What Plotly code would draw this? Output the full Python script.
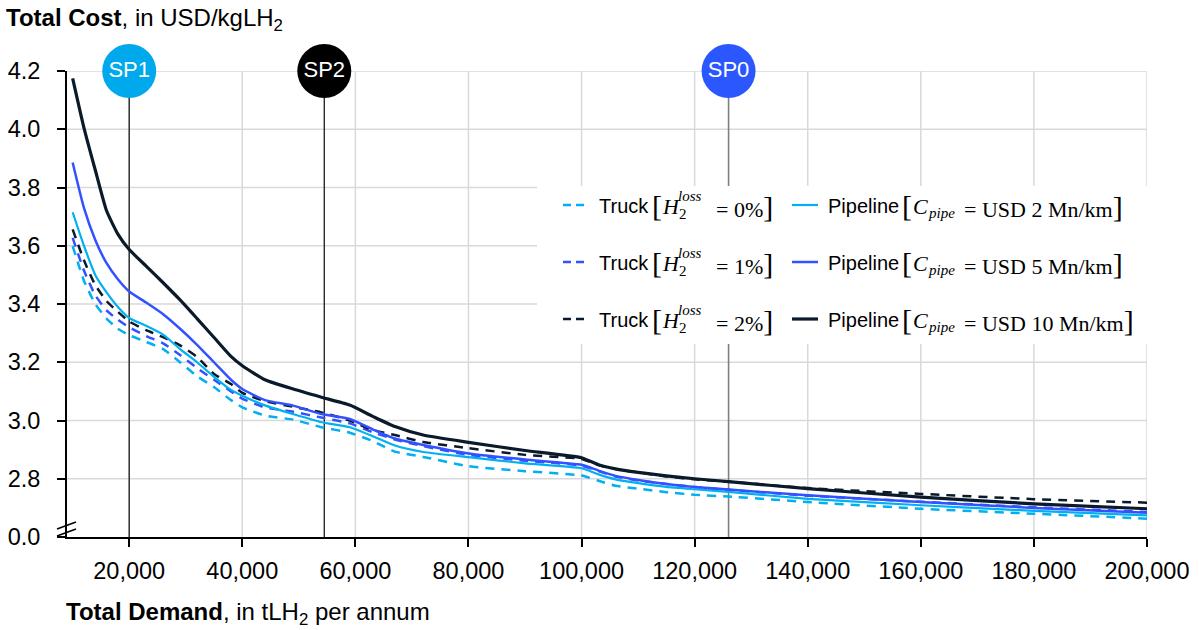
import plotly.graph_objects as go

# Total annual demand (tLH2 per annum)
demand = [10000, 12000, 14000, 16000, 18000, 20000, 23000, 26000, 29000, 32000,
          35000, 38000, 40000, 44000, 49000, 54000, 59000, 63000, 67000, 72000,
          80000, 90000, 100000, 103000, 106000, 110000, 115000, 120000, 126000,
          140000, 160000, 180000, 200000]

# Total cost (USD/kgLH2) per supply option
truck_0 = [3.599, 3.48, 3.40, 3.35, 3.315, 3.293, 3.27, 3.245, 3.20, 3.152,
           3.115, 3.07, 3.045, 3.017, 3.003, 2.977, 2.958, 2.93, 2.893, 2.875,
           2.843, 2.826, 2.811, 2.793, 2.776, 2.766, 2.754, 2.745, 2.739,
           2.720, 2.697, 2.680, 2.663]
truck_1 = [3.627, 3.515, 3.43, 3.378, 3.346, 3.32, 3.29, 3.265, 3.225, 3.18,
           3.14, 3.10, 3.075, 3.045, 3.03, 3.01, 2.99, 2.96, 2.935, 2.912,
           2.882, 2.862, 2.845, 2.826, 2.808, 2.794, 2.782, 2.772, 2.762,
           2.742, 2.721, 2.702, 2.686]
truck_2 = [3.656, 3.55, 3.465, 3.41, 3.373, 3.34, 3.31, 3.286, 3.258, 3.218,
           3.16, 3.125, 3.095, 3.067, 3.047, 3.028, 3.0, 2.968, 2.95, 2.926,
           2.905, 2.882, 2.868, 2.847, 2.833, 2.822, 2.808, 2.798, 2.79,
           2.768, 2.748, 2.73, 2.718]
pipe_2 = [3.715, 3.60, 3.50, 3.44, 3.39, 3.352, 3.325, 3.295, 3.245, 3.20,
          3.15, 3.105, 3.085, 3.052, 3.022, 2.994, 2.977, 2.947, 2.914, 2.892,
          2.874, 2.853, 2.836, 2.815, 2.798, 2.785, 2.772, 2.764, 2.755,
          2.731, 2.709, 2.69, 2.674]
pipe_5 = [3.886, 3.73, 3.62, 3.54, 3.485, 3.443, 3.405, 3.365, 3.315, 3.26,
          3.2, 3.14, 3.108, 3.07, 3.051, 3.022, 3.005, 2.97, 2.938, 2.916,
          2.887, 2.866, 2.848, 2.828, 2.81, 2.796, 2.782, 2.772, 2.763,
          2.743, 2.72, 2.70, 2.683]
pipe_10 = [4.175, 4.005, 3.86, 3.72, 3.64, 3.587, 3.53, 3.473, 3.414, 3.35,
           3.285, 3.22, 3.188, 3.14, 3.108, 3.08, 3.053, 3.015, 2.979, 2.95,
           2.925, 2.897, 2.872, 2.848, 2.834, 2.822, 2.81, 2.80, 2.79,
           2.766, 2.737, 2.714, 2.697]

# Switch points
sp_labels = ["SP1", "SP2", "SP0"]
sp_demand = [20000, 54500, 126000]

# Axis ticks (broken y axis: lowest tick stands for 0.0)
y_tickvals = [2.6, 2.8, 3.0, 3.2, 3.4, 3.6, 3.8, 4.0, 4.2]
y_ticktext = ["0.0", "2.8", "3.0", "3.2", "3.4", "3.6", "3.8", "4.0", "4.2"]
x_tickvals = [20000, 40000, 60000, 80000, 100000, 120000, 140000, 160000, 180000, 200000]
X_RANGE = [9000, 200000]
Y_RANGE = [2.6, 4.2]

LIGHT = "#00B0F0"
BLUE = "#3352FF"
DARK = "#0B1A2B"
GRID = "#D9D9D9"
SANS = "Liberation Sans, Arial, sans-serif"
SERIF = "Liberation Serif, Times New Roman, serif"

# Plot-area geometry in pixels
L, T, W, H = 67, 71, 1080, 466
FIG_W, FIG_H = 1199, 630

# Key panel extent in pixels (grid is left open there)
box_l, box_r, box_t, box_b = 537, 1149, 186, 344


def px(x):
    return (x - L) / W


def py(y):
    return (T + H - y) / H


def to_x(pxl):
    return X_RANGE[0] + px(pxl) * (X_RANGE[1] - X_RANGE[0])


def to_y(pyl):
    return Y_RANGE[0] + py(pyl) * (Y_RANGE[1] - Y_RANGE[0])


fig = go.Figure()

series = [
    (truck_0, LIGHT, "dash", 2.5),
    (truck_1, BLUE, "dash", 2.5),
    (truck_2, DARK, "dash", 2.5),
    (pipe_2, LIGHT, "solid", 2.2),
    (pipe_5, BLUE, "solid", 2.5),
    (pipe_10, DARK, "solid", 3.2),
]
for vals, color, dash, width in series:
    fig.add_trace(go.Scatter(
        x=demand, y=vals, mode="lines",
        line=dict(color=color, width=width, shape="spline", smoothing=0.5,
                  dash="9px,7px" if dash == "dash" else "solid"),
        showlegend=False, hoverinfo="skip"))

# Switch-point badges sitting on the top gridline
fig.add_trace(go.Scatter(
    x=sp_demand, y=[4.2] * len(sp_demand), mode="markers+text",
    text=sp_labels, textposition="middle center",
    textfont=dict(family=SANS, size=22, color="white"),
    marker=dict(size=54, color=["#00A9EC", "#000000", "#2B57FF"], line=dict(width=0)),
    cliponaxis=False, showlegend=False, hoverinfo="skip"))

shapes = []
key_x0, key_y0, key_y1 = to_x(box_l), to_y(box_b), to_y(box_t)
pb, pt = py(box_b), py(box_t)


def vline(xv, color, width):
    # vertical line that leaves a gap where the key panel sits
    spans = [(0, 1)] if xv < key_x0 else [(0, pb), (pt, 1)]
    for a, b in spans:
        shapes.append(dict(type="line", xref="x", yref="paper", x0=xv, x1=xv, y0=a, y1=b,
                           line=dict(color=color, width=width), layer="below"))


# Gridlines
for xv in x_tickvals:
    vline(xv, GRID, 1.5)
for yv in y_tickvals[1:]:
    x_end = px(box_l) if key_y0 <= yv <= key_y1 else 1
    shapes.append(dict(type="line", xref="paper", yref="y", x0=0, x1=x_end, y0=yv, y1=yv,
                       line=dict(color=GRID, width=1.5), layer="below"))

# Switch-point guide lines
for xv, col, w in zip(sp_demand, ["#1a1a1a", "#1a1a1a", "#7f7f7f"], [1.3, 1.3, 1.6]):
    vline(xv, col, w)

# Key symbols
rows = [206, 263, 320]
key_cols = [LIGHT, BLUE, DARK]
pipe_widths = [2.2, 2.5, 3.2]
for i, yc in enumerate(rows):
    shapes.append(dict(type="line", xref="paper", yref="paper",
                       x0=px(563), x1=px(584), y0=py(yc - 1), y1=py(yc - 1),
                       line=dict(color=key_cols[i], width=2.5, dash="8px,5px"), layer="above"))
    shapes.append(dict(type="line", xref="paper", yref="paper",
                       x0=px(792), x1=px(818), y0=py(yc - 1), y1=py(yc - 1),
                       line=dict(color=key_cols[i], width=pipe_widths[i]), layer="above"))

# Axis break marks
for dy in (0, 7):
    shapes.append(dict(type="line", xref="paper", yref="paper",
                       x0=px(57), x1=px(76), y0=py(529 + dy), y1=py(522 + dy),
                       line=dict(color="black", width=1.5), layer="above"))

annotations = []


def add_text(x, y, text, size, family=SANS, color="black"):
    annotations.append(dict(xref="paper", yref="paper", x=px(x), y=py(y),
                            xanchor="left", yanchor="middle", text=text,
                            showarrow=False, font=dict(family=family, size=size, color=color)))


loss_pct = ["0%", "1%", "2%"]
pipe_cost = ["2", "5", "10"]
for i, yc in enumerate(rows):
    add_text(597, yc, "Truck", 20)
    add_text(650, yc - 1, "[", 30, SERIF)
    add_text(660, yc, "<i>H</i>", 22, SERIF)
    add_text(676, yc - 10, "<i>loss</i>", 15, SERIF)
    add_text(677, yc + 8, "2", 15, SERIF)
    add_text(714, yc, "= " + loss_pct[i] + "<span style='font-size:30px'>]</span>", 22, SERIF)

    add_text(826, yc, "Pipeline", 20)
    add_text(900, yc - 1, "[", 30, SERIF)
    add_text(911, yc, "<i>C</i>", 22, SERIF)
    add_text(926, yc + 7, "<i>pipe</i>", 15, SERIF)
    add_text(962, yc, "= USD " + pipe_cost[i] + " Mn/km<span style='font-size:30px'>]</span>", 22, SERIF)

add_text(4, 20, "<b>Total Cost</b>, in USD/kgLH<sub>2</sub>", 24)
add_text(64, 613, "<b>Total Demand</b>, in tLH<sub>2</sub> per annum", 24)

fig.update_layout(
    width=FIG_W, height=FIG_H,
    margin=dict(l=L, r=FIG_W - L - W, t=T, b=FIG_H - T - H, pad=0),
    paper_bgcolor="white", plot_bgcolor="white",
    font=dict(family=SANS, size=22, color="black"),
    shapes=shapes, annotations=annotations,
    xaxis=dict(range=X_RANGE, tickvals=x_tickvals, tickformat=",d", automargin=False,
               showgrid=False, showline=True, linecolor="black", linewidth=2,
               ticks="outside", ticklen=8, tickwidth=2, tickcolor="black",
               ticklabelstandoff=4, zeroline=False,
               tickfont=dict(family=SANS, size=23.5)),
    yaxis=dict(range=Y_RANGE, tickvals=y_tickvals, ticktext=y_ticktext, automargin=False,
               showgrid=False, showline=True, linecolor="black", linewidth=2,
               ticks="outside", ticklen=8, tickwidth=1.5, tickcolor="black",
               ticklabelstandoff=12, zeroline=False,
               tickfont=dict(family=SANS, size=23.5)),
)

fig.write_html("out.html")
